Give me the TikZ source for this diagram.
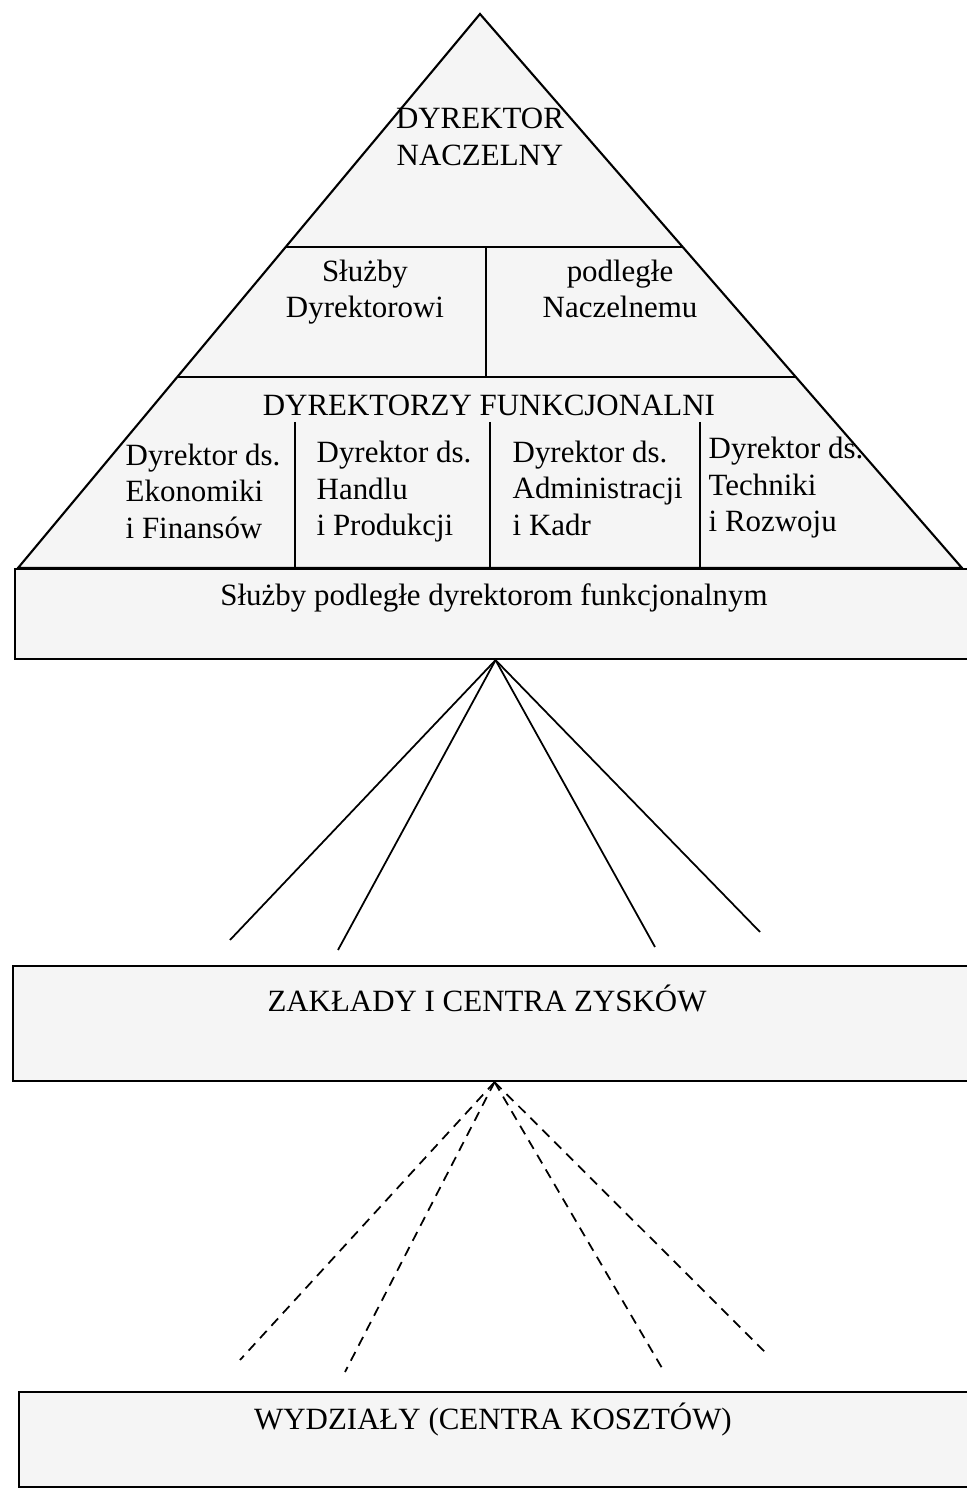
\documentclass[tikz,border=0pt]{standalone}
\usepackage{fontspec}
\setmainfont{Liberation Serif}
\usetikzlibrary{positioning, calc}

\begin{document}
\begin{tikzpicture}[
  txt/.style={font=\fontsize{8.8}{10.4}\selectfont, inner sep=0pt},
  panel/.style={draw, line width=0.6pt, fill=black!4, inner sep=0pt, anchor=north west},
  rule/.style={line width=0.6pt},
  fan/.style={line width=0.5pt},
  fandash/.style={line width=0.5pt, dash pattern=on 2.8pt off 2pt}
]
\useasboundingbox (0,0) rectangle (9.66,14.97);

% Pyramid of the management
\coordinate (apex) at (4.80,14.83);
\coordinate (lb) at (0.18,9.29);
\coordinate (rb) at (9.62,9.29);
\filldraw[rule, fill=black!4] (apex) -- (rb) -- (lb) -- cycle;
\coordinate (l1) at ($(apex)!0.4206!(lb)$);
\coordinate (r1) at ($(apex)!0.4206!(rb)$);
\coordinate (l2) at ($(apex)!0.655!(lb)$);
\coordinate (r2) at ($(apex)!0.655!(rb)$);
\draw[rule] (l1) -- (r1);
\draw[rule] (l2) -- (r2);
\draw[rule] (4.86,12.50) -- (4.86,11.20);
\foreach \x in {2.95,4.90,7.00}
  \draw[rule] (\x,10.75) -- (\x,9.29);

\node[txt, align=center] (naczelny) at (4.80,13.60) {DYREKTOR\\NACZELNY};
\node[txt, align=center] (sluzbyL) at (3.65,12.05) {Służby\\Dyrektorowi};
\node[txt, align=center] (sluzbyR) at (6.20,12.08) {podległe\\Naczelnemu};
\node[txt] (funkcj) at (4.89,10.92) {DYREKTORZY FUNKCJONALNI};
\node[txt, align=left, anchor=west] (ekon) at (1.25,10.06) {Dyrektor ds.\\Ekonomiki\\i Finansów};
\node[txt, align=left, anchor=west] (handel) at (3.16,10.05) {Dyrektor ds.\\Handlu\\i Produkcji};
\node[txt, align=left, anchor=west] (admin) at (5.12,10.09) {Dyrektor ds.\\Administracji\\i Kadr};
\node[txt, align=left, anchor=west] (tech) at (7.08,10.09) {Dyrektor ds.\\Techniki\\i Rozwoju};

% Services of the functional directors
\node[panel, minimum width=9.61cm, minimum height=0.90cm] (funbox) at (0.14,9.29) {};
\node[txt] (funtxt) at (4.94,8.99) {Służby podległe dyrektorom funkcjonalnym};

% Plants and profit centres
\node[panel, minimum width=9.63cm, minimum height=1.15cm] (zaklady) at (0.12,5.32) {};
\node[txt] (zaktxt) at (4.87,4.99) {ZAKŁADY I CENTRA ZYSKÓW};

\coordinate (za1) at (2.30,5.57);
\coordinate (za2) at (3.38,5.47);
\coordinate (za3) at (6.55,5.50);
\coordinate (za4) at (7.60,5.65);
\foreach \e in {za1,za2,za3,za4}
  \draw[fan] (funbox.south) -- (\e);

% Departments and cost centres
\node[panel, minimum width=9.60cm, minimum height=0.95cm] (wydzialy) at (0.18,1.06) {};
\node[txt] (wydtxt) at (4.93,0.77) {WYDZIAŁY (CENTRA KOSZTÓW)};

\coordinate (wy1) at (2.40,1.37);
\coordinate (wy2) at (3.45,1.25);
\coordinate (wy3) at (6.62,1.29);
\coordinate (wy4) at (7.68,1.42);
\foreach \e in {wy1,wy2,wy3,wy4}
  \draw[fandash] (zaklady.south) -- (\e);
\end{tikzpicture}
\end{document}
